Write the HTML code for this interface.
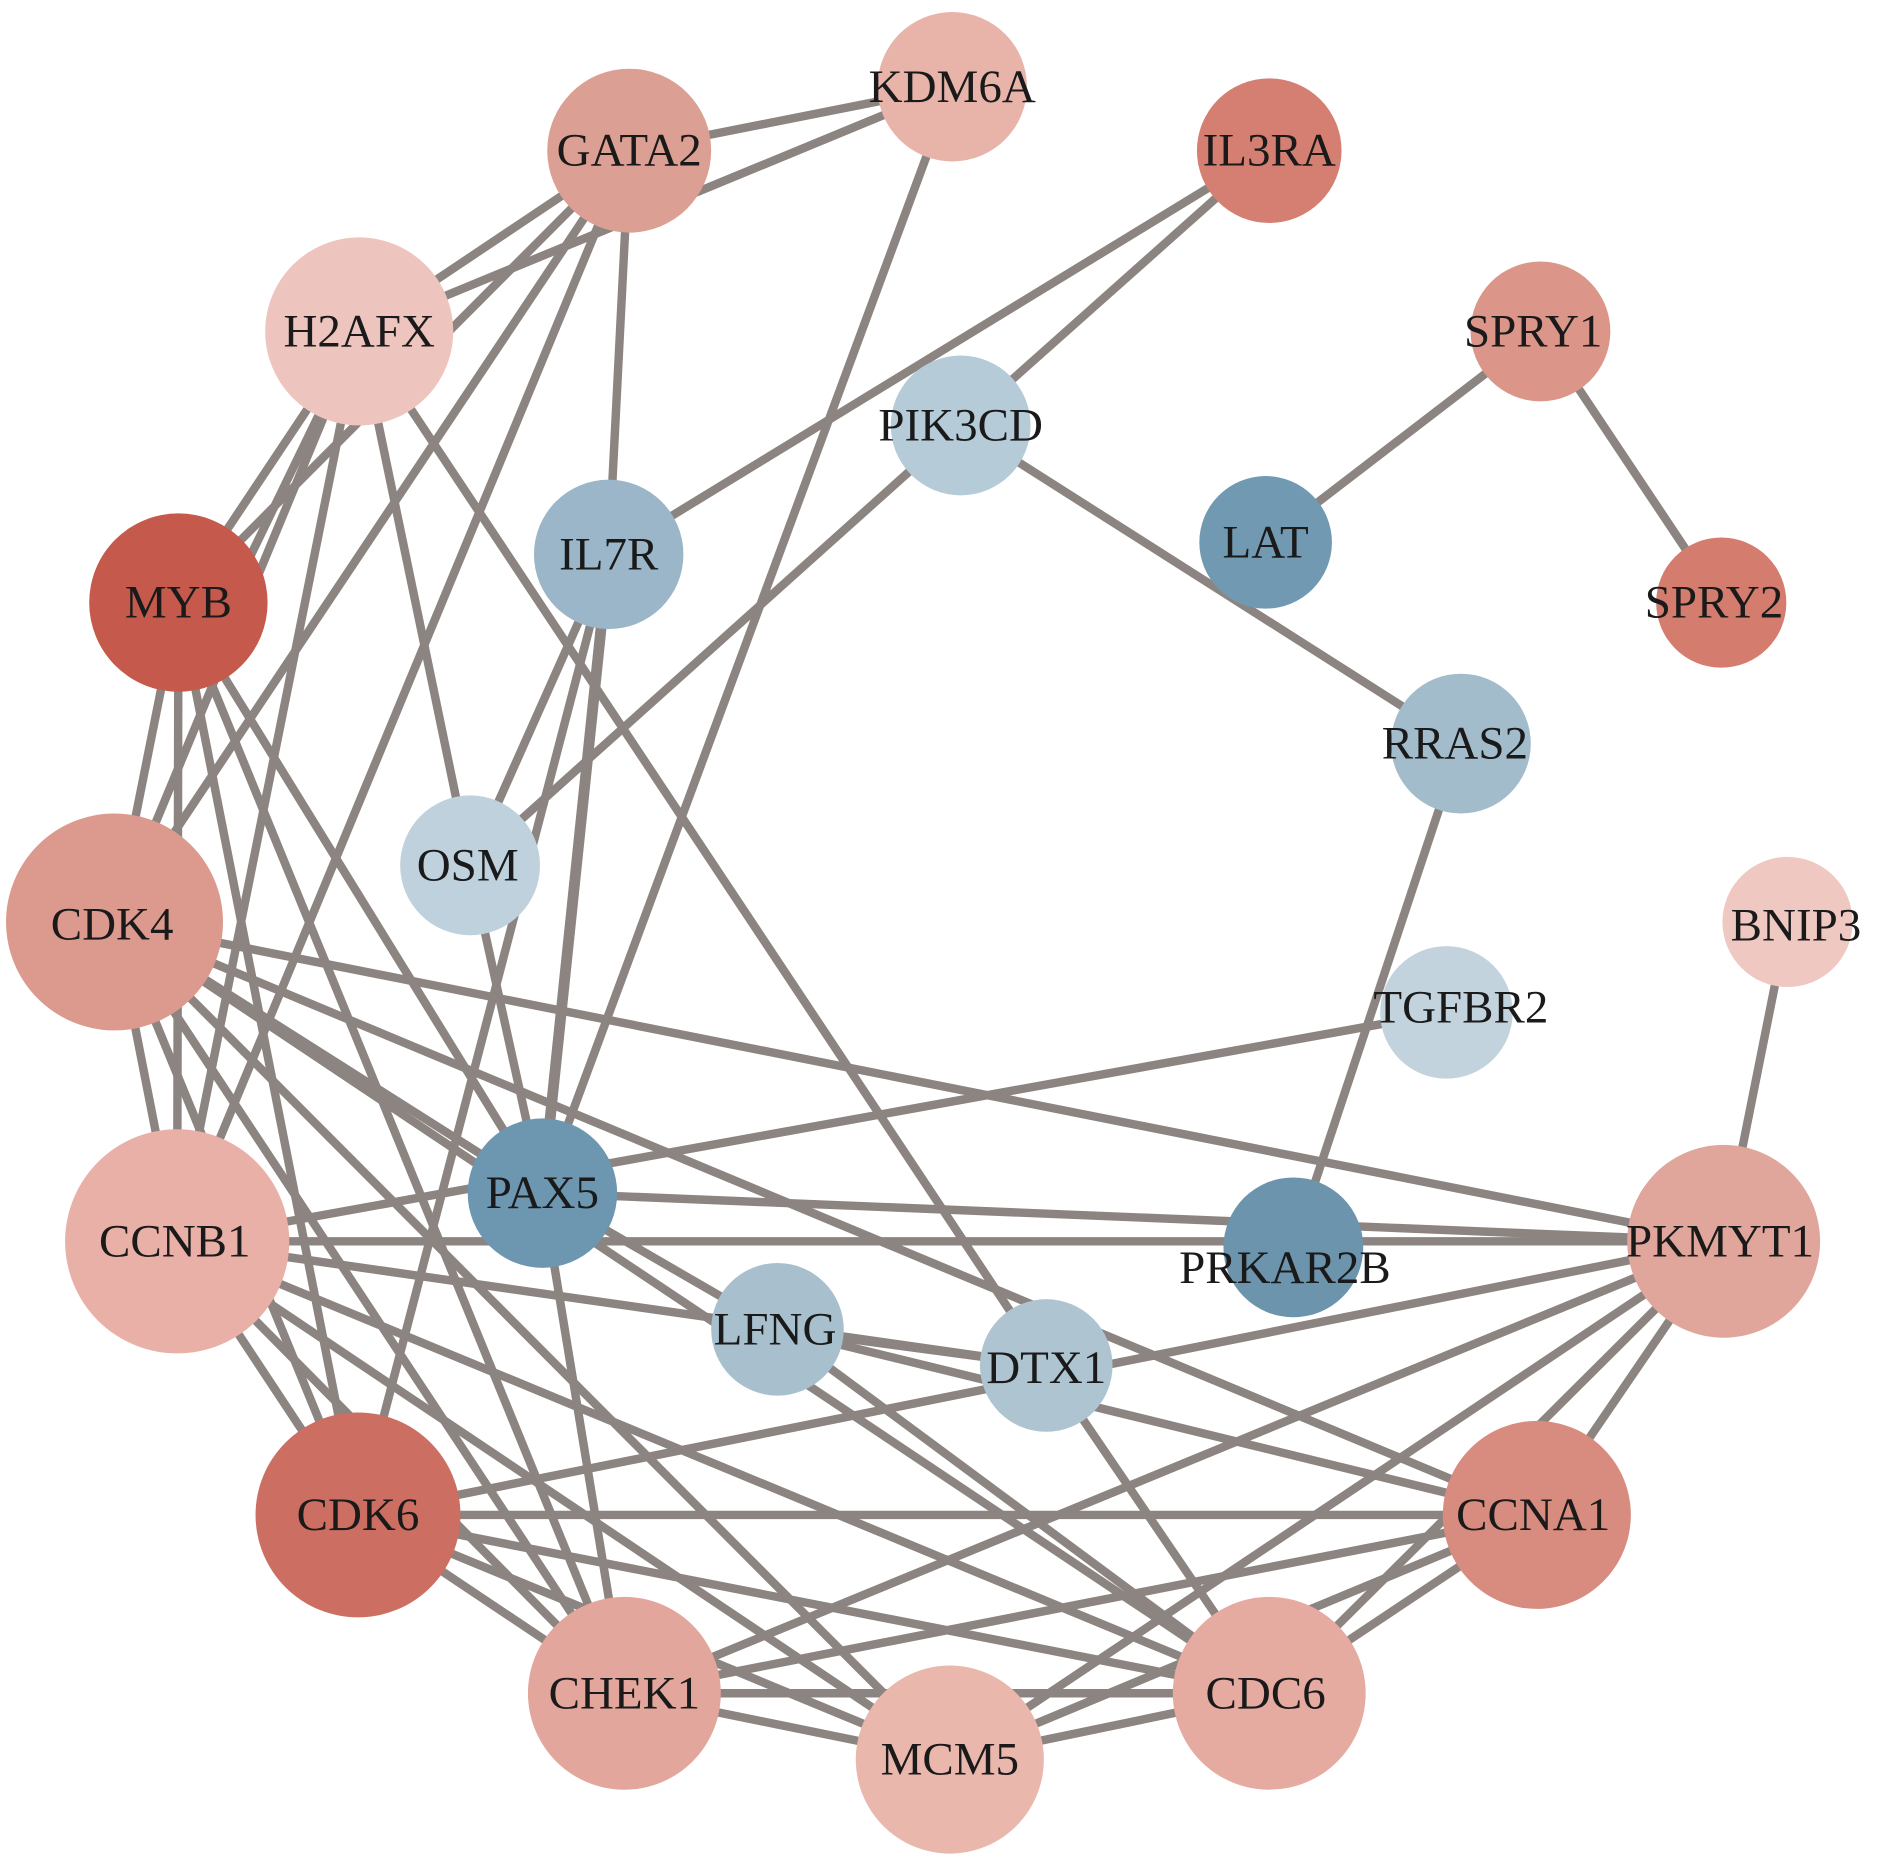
<!DOCTYPE html>
<html><head><meta charset="utf-8"><style>html,body{margin:0;padding:0;background:#fff}svg{display:block}</style></head>
<body>
<svg width="1890" height="1862" viewBox="0 0 1568 1545" preserveAspectRatio="none" xmlns="http://www.w3.org/2000/svg">
<g stroke="#8c8480" stroke-width="7" stroke-linecap="round">
<line x1="522" y1="125" x2="790" y2="72"/>
<line x1="298" y1="275" x2="790" y2="72"/>
<line x1="790" y1="72" x2="450" y2="990"/>
<line x1="522" y1="125" x2="298" y2="275"/>
<line x1="522" y1="125" x2="148" y2="500"/>
<line x1="522" y1="125" x2="95" y2="765"/>
<line x1="522" y1="125" x2="147" y2="1030"/>
<line x1="522" y1="125" x2="505" y2="460"/>
<line x1="1053" y1="125" x2="797" y2="353"/>
<line x1="1053" y1="125" x2="505" y2="460"/>
<line x1="298" y1="275" x2="148" y2="500"/>
<line x1="298" y1="275" x2="95" y2="765"/>
<line x1="298" y1="275" x2="147" y2="1030"/>
<line x1="298" y1="275" x2="390" y2="718"/>
<line x1="298" y1="275" x2="868" y2="1133"/>
<line x1="298" y1="275" x2="160" y2="560"/>
<line x1="148" y1="500" x2="95" y2="765"/>
<line x1="148" y1="500" x2="147" y2="1030"/>
<line x1="148" y1="500" x2="297" y2="1257"/>
<line x1="148" y1="500" x2="450" y2="990"/>
<line x1="148" y1="500" x2="518" y2="1405"/>
<line x1="505" y1="460" x2="390" y2="718"/>
<line x1="505" y1="460" x2="450" y2="990" stroke-width="9"/>
<line x1="505" y1="460" x2="297" y2="1257"/>
<line x1="797" y1="353" x2="390" y2="718"/>
<line x1="797" y1="353" x2="1212" y2="617"/>
<line x1="390" y1="718" x2="450" y2="990"/>
<line x1="1278" y1="275" x2="1050" y2="450"/>
<line x1="1278" y1="275" x2="1428" y2="500"/>
<line x1="1212" y1="617" x2="1073" y2="1035"/>
<line x1="1483" y1="765" x2="1430" y2="1030"/>
<line x1="1200" y1="840" x2="147" y2="1030"/>
<line x1="95" y1="765" x2="147" y2="1030"/>
<line x1="95" y1="765" x2="297" y2="1257"/>
<line x1="95" y1="765" x2="1430" y2="1030"/>
<line x1="95" y1="765" x2="1275" y2="1257"/>
<line x1="95" y1="765" x2="518" y2="1405"/>
<line x1="95" y1="765" x2="788" y2="1460"/>
<line x1="95" y1="765" x2="1053" y2="1405"/>
<line x1="95" y1="765" x2="450" y2="990"/>
<line x1="147" y1="1030" x2="1430" y2="1030"/>
<line x1="147" y1="1030" x2="297" y2="1257"/>
<line x1="147" y1="1030" x2="518" y2="1405"/>
<line x1="147" y1="1030" x2="788" y2="1460"/>
<line x1="147" y1="1030" x2="1053" y2="1405"/>
<line x1="147" y1="1030" x2="868" y2="1133"/>
<line x1="450" y1="990" x2="1430" y2="1030"/>
<line x1="450" y1="990" x2="645" y2="1103"/>
<line x1="450" y1="990" x2="518" y2="1405"/>
<line x1="645" y1="1103" x2="868" y2="1133"/>
<line x1="645" y1="1103" x2="1053" y2="1405"/>
<line x1="645" y1="1103" x2="1275" y2="1257"/>
<line x1="868" y1="1133" x2="1053" y2="1405"/>
<line x1="297" y1="1257" x2="1430" y2="1030"/>
<line x1="297" y1="1257" x2="1275" y2="1257"/>
<line x1="297" y1="1257" x2="518" y2="1405"/>
<line x1="297" y1="1257" x2="788" y2="1460"/>
<line x1="297" y1="1257" x2="1053" y2="1405"/>
<line x1="1430" y1="1030" x2="1275" y2="1257"/>
<line x1="1430" y1="1030" x2="1053" y2="1405"/>
<line x1="1430" y1="1030" x2="788" y2="1460"/>
<line x1="1430" y1="1030" x2="518" y2="1405"/>
<line x1="1275" y1="1257" x2="518" y2="1405"/>
<line x1="1275" y1="1257" x2="788" y2="1460"/>
<line x1="1275" y1="1257" x2="1053" y2="1405"/>
<line x1="518" y1="1405" x2="788" y2="1460"/>
<line x1="518" y1="1405" x2="1053" y2="1405"/>
<line x1="788" y1="1460" x2="1053" y2="1405"/>
</g>
<g>
<circle cx="790" cy="72" r="62" fill="#e8b4aa"/>
<circle cx="522" cy="125" r="68" fill="#dc9f94"/>
<circle cx="1053" cy="125" r="60" fill="#d57f72"/>
<circle cx="298" cy="275" r="78" fill="#eec5be"/>
<circle cx="1278" cy="275" r="58" fill="#db9689"/>
<circle cx="797" cy="353" r="58" fill="#b5cbd8"/>
<circle cx="505" cy="460" r="62" fill="#9ab6c8"/>
<circle cx="1050" cy="450" r="55" fill="#7199b2"/>
<circle cx="148" cy="500" r="74" fill="#c55a4c"/>
<circle cx="1428" cy="500" r="54" fill="#d47c6e"/>
<circle cx="1212" cy="617" r="58" fill="#a3bccc"/>
<circle cx="390" cy="718" r="58" fill="#bfd1dc"/>
<circle cx="1483" cy="765" r="54" fill="#efc8c1"/>
<circle cx="95" cy="765" r="90" fill="#dc9a8f"/>
<circle cx="1200" cy="840" r="55" fill="#c2d3de"/>
<circle cx="450" cy="990" r="62" fill="#6d96b0"/>
<circle cx="147" cy="1030" r="93" fill="#e8b0a7"/>
<circle cx="1073" cy="1035" r="58" fill="#6d94ad"/>
<circle cx="1430" cy="1030" r="80" fill="#e0a59b"/>
<circle cx="645" cy="1103" r="55" fill="#a8bfce"/>
<circle cx="868" cy="1133" r="55" fill="#aec4d1"/>
<circle cx="297" cy="1257" r="85" fill="#cc6f62"/>
<circle cx="1275" cy="1257" r="78" fill="#d88c80"/>
<circle cx="518" cy="1405" r="80" fill="#e2a69c"/>
<circle cx="1053" cy="1405" r="80" fill="#e5aba1"/>
<circle cx="788" cy="1460" r="78" fill="#eab7ad"/>
</g>
<g font-family="'Liberation Serif', serif" font-size="39" fill="#1a1a1a" text-anchor="middle" dominant-baseline="central">
<text x="790" y="72">KDM6A</text>
<text x="522" y="125">GATA2</text>
<text x="1053" y="125">IL3RA</text>
<text x="298" y="275">H2AFX</text>
<text x="1272" y="275">SPRY1</text>
<text x="797" y="353">PIK3CD</text>
<text x="505" y="460">IL7R</text>
<text x="1050" y="450">LAT</text>
<text x="148" y="500">MYB</text>
<text x="1422" y="500">SPRY2</text>
<text x="1207" y="617">RRAS2</text>
<text x="388" y="718">OSM</text>
<text x="1490" y="768">BNIP3</text>
<text x="93" y="767">CDK4</text>
<text x="1212" y="836">TGFBR2</text>
<text x="450" y="990">PAX5</text>
<text x="145" y="1030">CCNB1</text>
<text x="1066" y="1052">PRKAR2B</text>
<text x="1427" y="1030">PKMYT1</text>
<text x="643" y="1103">LFNG</text>
<text x="868" y="1135">DTX1</text>
<text x="297" y="1257">CDK6</text>
<text x="1272" y="1257">CCNA1</text>
<text x="518" y="1405">CHEK1</text>
<text x="1050" y="1405">CDC6</text>
<text x="788" y="1460">MCM5</text>
</g>
</svg>
</body></html>
